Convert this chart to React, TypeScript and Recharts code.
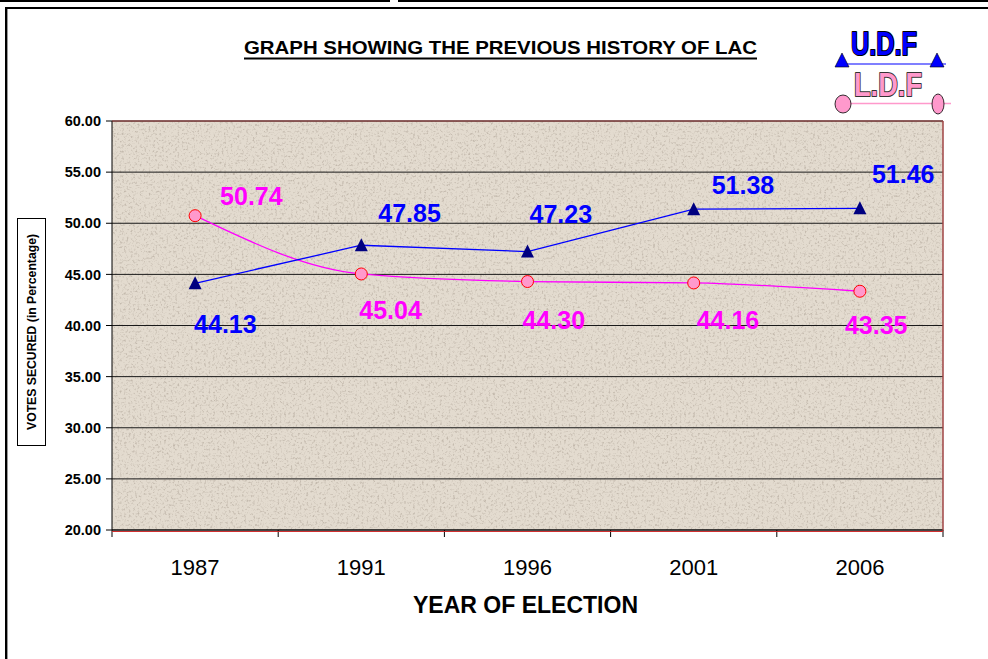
import React from 'react';
import { LineChart, Line, XAxis, YAxis, CartesianGrid, LabelList } from 'recharts';

const YEARS = ['1987', '1991', '1996', '2001', '2006'];
const UDF = [44.13, 47.85, 47.23, 51.38, 51.46];
const LDF = [50.74, 45.04, 44.3, 44.16, 43.35];
const Y_TICKS = [20, 25, 30, 35, 40, 45, 50, 55, 60];

// where each value label sits relative to its point (dx, baseline dy)
const UDF_LABEL_OFFSETS = [[-1, 50], [17, -23], [2, -29], [18, -15], [12, -25]];
const LDF_LABEL_OFFSETS = [[25, -11], [-2, 45], [-5, 47], [3, 46], [-15, 43]];

const data = YEARS.map((year, i) => ({ year, udf: UDF[i], ldf: LDF[i] }));

const W = 988;
const H = 659;
const PLOT_LEFT = 112;
const PLOT_RIGHT = 943;
const PLOT_TOP = 121;
const PLOT_BOTTOM = 530;
const HALF_BAND = (PLOT_RIGHT - PLOT_LEFT) / YEARS.length / 2;
const FONT = '"Liberation Sans", Arial, sans-serif';

const Triangle = (props: any) => {
  const { cx, cy, index } = props;
  if (cx == null || cy == null) return null;
  return (
    <path
      key={`t-${index}`}
      d={`M${cx},${cy - 7} L${cx + 6.5},${cy + 6} L${cx - 6.5},${cy + 6} Z`}
      fill="#000080"
    />
  );
};

const PinkDot = (props: any) => {
  const { cx, cy, index } = props;
  if (cx == null || cy == null) return null;
  return <circle key={`c-${index}`} cx={cx} cy={cy} r={6} fill="#ff99cc" stroke="#ff0000" strokeWidth={1} />;
};

const makeLabel = (offsets: number[][], color: string) => (props: any) => {
  const { x, y, value, index } = props;
  const [dx, dy] = offsets[index] || [0, 0];
  return (
    <text
      key={`l-${index}`}
      x={x + dx}
      y={y + dy}
      fill={color}
      fontFamily={FONT}
      fontWeight="bold"
      fontSize={25}
      textAnchor="start"
    >
      {Number(value).toFixed(2)}
    </text>
  );
};

const XTick = (props: any) => {
  const { x, y, payload, index } = props;
  return (
    <g>
      <text x={x} y={y + 45} textAnchor="middle" fontFamily={FONT} fontSize={22} fill="#000">
        {payload.value}
      </text>
      <line x1={x - HALF_BAND} x2={x - HALF_BAND} y1={y} y2={y + 7} stroke="#000" />
      {index === YEARS.length - 1 && (
        <line x1={x + HALF_BAND} x2={x + HALF_BAND} y1={y} y2={y + 7} stroke="#000" />
      )}
    </g>
  );
};

const App: React.FC = () => {
  return (
    <div style={{ position: 'absolute', left: 0, top: 0, width: W, height: H, background: '#fff', overflow: 'hidden' }}>
      <svg width={W} height={H} style={{ position: 'absolute', left: 0, top: 0 }}>
        <defs>
          <filter id="grain" x="0" y="0" width="100%" height="100%">
            <feTurbulence type="fractalNoise" baseFrequency="0.45" numOctaves={3} seed={4} />
            <feColorMatrix
              type="matrix"
              values="0 0 0 0 0.55  0 0 0 0 0.49  0 0 0 0 0.42  3.2 0 0 0 -1.65"
            />
          </filter>
          <pattern id="paper" patternUnits="userSpaceOnUse" width="400" height="400">
            <rect width="400" height="400" fill="#e3dbcf" />
            <rect width="400" height="400" filter="url(#grain)" />
          </pattern>
        </defs>
      </svg>

      <div style={{ position: 'absolute', left: 0, top: 0 }}>
        <LineChart width={W} height={H} data={data} margin={{ top: PLOT_TOP, right: W - PLOT_RIGHT, bottom: 69, left: 52 }}>
          <CartesianGrid vertical={false} stroke="#1a1a1a" fill="url(#paper)" fillOpacity={1} />
          <XAxis
            dataKey="year"
            padding={{ left: HALF_BAND, right: HALF_BAND }}
            height={60}
            tickSize={0}
            tickMargin={0}
            tickLine={false}
            axisLine={{ stroke: '#000' }}
            tick={<XTick />}
            interval={0}
          />
          <YAxis
            width={60}
            domain={[20, 60]}
            ticks={Y_TICKS}
            interval={0}
            tickFormatter={(v: number) => v.toFixed(2)}
            tickSize={6}
            tickMargin={5}
            tickLine={{ stroke: '#000' }}
            axisLine={{ stroke: '#000' }}
            tick={{ fill: '#000', fontSize: 14.5, fontWeight: 'bold', fontFamily: FONT }}
          />
          <Line
            dataKey="ldf"
            type="monotone"
            stroke="#ff00ff"
            strokeWidth={1.3}
            dot={<PinkDot />}
            isAnimationActive={false}
          >
            <LabelList dataKey="ldf" content={makeLabel(LDF_LABEL_OFFSETS, '#ff00ff')} />
          </Line>
          <Line
            dataKey="udf"
            type="linear"
            stroke="#0000ff"
            strokeWidth={1.3}
            dot={<Triangle />}
            isAnimationActive={false}
          >
            <LabelList dataKey="udf" content={makeLabel(UDF_LABEL_OFFSETS, '#0000ff')} />
          </Line>
        </LineChart>
      </div>

      <svg width={W} height={H} style={{ position: 'absolute', left: 0, top: 0, pointerEvents: 'none' }}>
        {/* page frame */}
        <rect x={0} y={0} width={390} height={2} fill="#000" />
        <rect x={398} y={0} width={W - 398} height={2} fill="#000" />
        <rect x={5} y={7} width={W - 5} height={2} fill="#000" />
        <rect x={5} y={7} width={2} height={H - 7} fill="#000" />
        <rect x={7} y={9} width={1} height={H - 9} fill="#999" />

        {/* plot frame */}
        <line x1={PLOT_LEFT} x2={PLOT_RIGHT} y1={PLOT_TOP} y2={PLOT_TOP} stroke="#8e2f2f" strokeWidth={1.2} />
        <line x1={PLOT_RIGHT} x2={PLOT_RIGHT} y1={PLOT_TOP} y2={PLOT_BOTTOM + 1} stroke="#a04545" strokeWidth={1.5} />
        <line x1={PLOT_LEFT} x2={PLOT_RIGHT} y1={PLOT_BOTTOM + 1.5} y2={PLOT_BOTTOM + 1.5} stroke="#d03030" strokeWidth={1} />

        {/* title */}
        <text x={244} y={54} textLength={513} lengthAdjust="spacingAndGlyphs" fontFamily={FONT} fontWeight="bold" fontSize={19} fill="#000">
          GRAPH SHOWING THE PREVIOUS HISTORY OF LAC
        </text>
        <line x1={244} x2={757} y1={58.5} y2={58.5} stroke="#000" strokeWidth={2} />

        {/* y axis title */}
        <rect x={17.5} y={218.5} width={28} height={227} fill="#fff" stroke="#000" strokeWidth={1} />
        <text
          transform="translate(36,332) rotate(-90)"
          textAnchor="middle"
          textLength={196}
          lengthAdjust="spacingAndGlyphs"
          fontFamily={FONT}
          fontWeight="bold"
          fontSize={12.5}
          fill="#000"
        >
          VOTES SECURED (in Percentage)
        </text>

        {/* x axis title */}
        <text x={413} y={613} textLength={225} lengthAdjust="spacingAndGlyphs" fontFamily={FONT} fontWeight="bold" fontSize={23} fill="#000">
          YEAR OF ELECTION
        </text>

        {/* party key */}
        <text x={851} y={55} textLength={66} lengthAdjust="spacingAndGlyphs" fontFamily={FONT} fontWeight="bold" fontSize={33}
          fill="#0000ff" stroke="#000" strokeWidth={2.2} paintOrder="stroke" strokeLinejoin="round">
          U.D.F
        </text>
        <line x1={846} x2={946} y1={64} y2={64} stroke="#0000ff" strokeWidth={1.2} />
        <path d="M842,53 L849,67 L835,67 Z" fill="#0000ff" stroke="#000" strokeWidth={0.6} />
        <path d="M937,53 L944,67 L930,67 Z" fill="#0000ff" stroke="#000" strokeWidth={0.6} />

        <text x={854} y={96} textLength={68} lengthAdjust="spacingAndGlyphs" fontFamily={FONT} fontWeight="bold" fontSize={33}
          fill="#ff99cc" stroke="#333" strokeWidth={2} paintOrder="stroke" strokeLinejoin="round">
          L.D.F
        </text>
        <line x1={850} x2={951} y1={103.5} y2={103.5} stroke="#ff99cc" strokeWidth={1.5} />
        <ellipse cx={843} cy={104} rx={8} ry={9} fill="#ff99cc" stroke="#000" strokeWidth={0.8} />
        <ellipse cx={938} cy={104} rx={6} ry={10} fill="#ff99cc" stroke="#000" strokeWidth={0.8} />
      </svg>
    </div>
  );
};

export default App;
